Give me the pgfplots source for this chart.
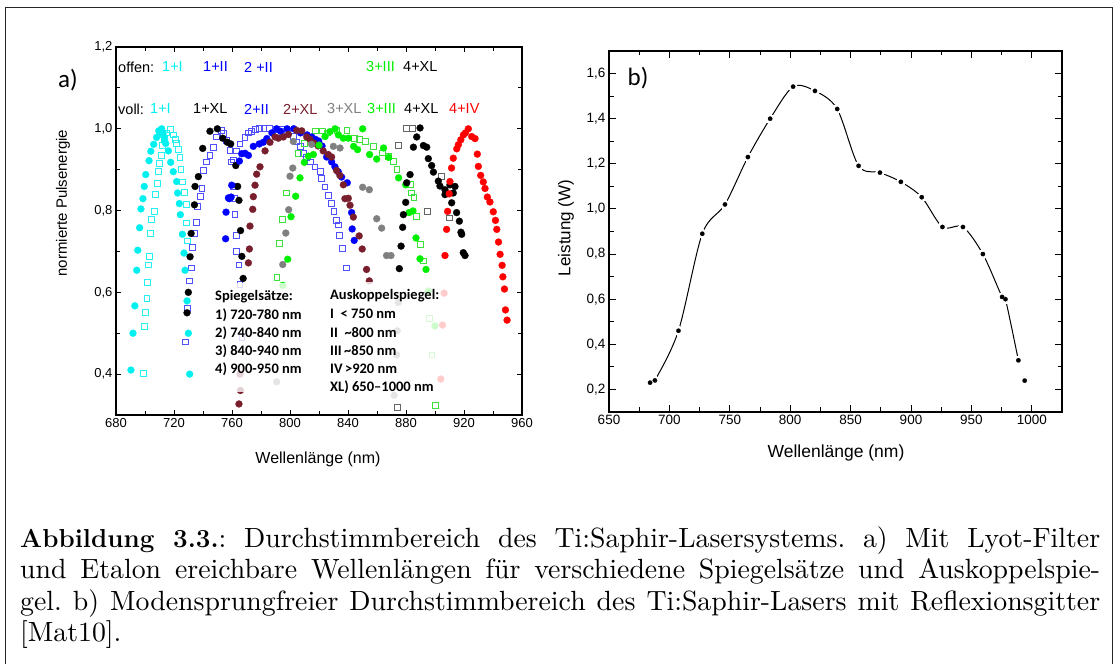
\documentclass[border=0pt]{standalone}
\usepackage{pgfplots}
\pgfplotsset{compat=1.18}
\usepackage{fontspec}
\newfontfamily\arial{Liberation Sans}
\newfontfamily\calibri{Carlito}
\font\capr="[lmroman10-regular.otf]" at 27.8pt
\font\capb="[lmroman12-bold.otf]" at 26pt
\definecolor{mycyan}{RGB}{0,240,240}
\definecolor{sqcyan}{RGB}{40,240,240}
\definecolor{sqblue}{RGB}{80,80,255}
\definecolor{myblue}{RGB}{0,0,255}
\definecolor{maroon}{RGB}{120,30,45}
\definecolor{mygray}{RGB}{128,128,128}
\definecolor{mygreen}{RGB}{0,240,0}
\definecolor{sqgreen}{RGB}{60,225,60}
\definecolor{sqgray}{RGB}{100,100,100}
\definecolor{myred}{RGB}{255,0,0}
\pgfplotsset{
  dots/.style={color=#1, only marks, mark=*, mark size=3.5pt, mark options={draw=#1, fill=#1, line width=0.2pt}},
  sqs/.style={color=#1, only marks, mark=square, mark size=2.9pt, mark options={draw=#1, line width=0.8pt, fill=none}},
}
\begin{document}
\begin{tikzpicture}[x=1pt,y=1pt]
\useasboundingbox (0,0) rectangle (1114,664);
\draw[line width=1pt, black!85] (5,-2) -- (5,656) -- (1112,656) -- (1112,-2);

% ---------------- panel a ----------------
\begin{axis}[
  at={(116pt,249pt)}, anchor=south west, scale only axis,
  width=406pt, height=368pt,
  xmin=680, xmax=960, ymin=0.3, ymax=1.2,
  xtick={680,720,760,800,840,880,920,960},
  minor xtick={700,740,780,820,860,900,940},
  ytick={0.4,0.6,0.8,1.0,1.2},
  minor ytick={0.3,0.5,0.7,0.9,1.1},
  tick align=inside, major tick length=5pt, minor tick length=4pt,
  every tick/.style={black, line width=0.9pt},
  axis line style={line width=1.2pt},
  /pgf/number format/assume math mode=true,
  tick label style={font=\arial\fontsize{13}{15}\selectfont},
  xticklabel style={/pgf/number format/.cd, fixed, precision=0, 1000 sep={}},
  yticklabel style={/pgf/number format/.cd, fixed, fixed zerofill, precision=1, use comma},
]
% offen 1+I
\addplot[sqs=sqcyan] coordinates {(698.8,0.402)(699.5,0.516)(700.4,0.55)(701.3,0.585)(701.8,0.625)(702.5,0.667)(703,0.687)(703.9,0.744)(704.6,0.778)(706.4,0.797)(707.4,0.84)(708.3,0.867)(709.2,0.895)(709.9,0.915)(711.5,0.935)(712,0.96)(713.5,0.975)(715,0.99)(717.7,0.999)(719.5,0.985)(721.2,0.975)(721.8,0.965)(723,0.95)(724,0.93)(724.8,0.90)(726,0.87)(727,0.845)(728.3,0.815)(728.7,0.77)(729.4,0.726)};
% offen 1+II and 2+II
\addplot[sqs=sqblue] coordinates {(727.8,0.479)(729.4,0.56)(730.4,0.628)(732.2,0.66)(732.9,0.71)(734.3,0.745)(735.7,0.772)(736.2,0.81)(738,0.835)(739.2,0.855)(740.2,0.898)(742.5,0.919)(744.8,0.935)(747.1,0.955)(749.4,0.98)(752.8,0.996)(754,0.988)(756.3,0.972)(758.6,0.947)(759.8,0.919)(760.8,0.86)(762,0.83)(762,0.79)(763,0.74)(763,0.70)(764.8,0.667)(765.5,0.62)(766.8,0.49)
(760.9,0.924)(763.2,0.946)(765.5,0.963)(768.9,0.978)(771.3,0.99)(773.6,0.994)(776,0.998)(779,1.0)(782,1.0)(786,1.0)(790,0.999)(794,0.998)(798,0.99)(802.3,0.981)(804.5,0.968)(806.9,0.956)(809.2,0.94)(811.5,0.93)(813.8,0.919)(817.2,0.907)(820.7,0.895)(821.8,0.879)(824.1,0.858)(826.4,0.838)(828.7,0.817)(830.3,0.797)(831.8,0.776)(833.3,0.765)(834.3,0.739)(835.9,0.707)(838.7,0.66)};
% offen 3+III
\addplot[sqs=sqgreen] coordinates {(791,0.636)(792.6,0.72)(794.9,0.778)(797.7,0.843)(805.8,0.94)(810,0.965)(817.5,0.995)(822.1,0.995)(826,0.99)(832.4,0.997)(839.3,0.997)(844.4,0.977)(848,0.975)(852,0.969)(857.7,0.957)(863.5,0.941)(868.1,0.933)(871.5,0.921)(873.7,0.90)(882.8,0.863)(883.9,0.843)(885.5,0.833)(887.1,0.785)(889.7,0.717)(892,0.677)(900,0.324)(896.3,0.536)(897.9,0.447)};
% offen 4+XL
\addplot[sqs=sqgray] coordinates {(874.1,0.319)(874.5,0.959)(880,1.0)(884.6,1.0)(894.7,0.797)(904.6,0.883)(909.9,0.782)};
% voll 1+I
\addplot[dots=mycyan] coordinates {(690.3,0.41)(691.7,0.50)(693,0.567)(694.3,0.654)(695,0.703)(696.3,0.758)(697.2,0.804)(698.6,0.829)(699.5,0.859)(700.5,0.888)(702.8,0.922)(704,0.945)(706,0.962)(708,0.979)(709.5,0.995)(710.5,0.99)(711.5,1.0)(712.5,0.99)(713,0.98)(713.4,0.97)(714.3,0.964)(716.1,0.946)(717.7,0.918)(719.5,0.895)(721.8,0.871)(722.5,0.843)(723.7,0.817)(724.4,0.79)(725.8,0.742)(726.9,0.696)(727.6,0.654)(729,0.579)(729.9,0.50)(730.8,0.40)};
% voll 1+XL
\addplot[dots=black] coordinates {(729,0.55)(729.9,0.60)(731.1,0.687)(731.8,0.744)(734.1,0.814)(734.5,0.859)(736.8,0.883)(739.8,0.952)(744.8,0.994)(749.9,1.0)(753.6,0.977)(756.8,0.967)(759.1,0.963)(762.6,0.91)(763.9,0.859)(764.8,0.825)(765.9,0.751)(766.8,0.688)(767.7,0.634)};
% voll 2+II
\addplot[dots=myblue] coordinates {(755.6,0.731)(755.9,0.796)(757.5,0.831)(758.2,0.829)(759.4,0.833)(759.8,0.862)(765.1,0.921)(766.7,0.939)(769,0.94)(771.3,0.935)(774.7,0.957)(778.8,0.963)(781.6,0.967)(784,0.976)(787.5,0.99)(790.8,1.0)(793.5,0.994)(798,1.0)(802.6,1.0)(807.2,0.99)(811.8,0.985)(815,0.98)(817.5,0.974)(819.8,0.97)(822.1,0.958)(825.3,0.931)(828.7,0.919)(831,0.907)(833.3,0.895)(835.6,0.882)(839.5,0.868)(842.5,0.795)(842.9,0.755)(844.3,0.727)};
% voll 2+XL
\addplot[dots=maroon] coordinates {(764.8,0.327)(765.5,0.40)(765.8,0.36)(771.3,0.672)(772,0.706)(772.4,0.762)(774.3,0.803)(774.7,0.834)(775.9,0.862)(777,0.889)(779.3,0.907)(782.8,0.946)(786.2,0.967)(789.7,0.98)(792,0.977)(795.4,0.98)(798.9,0.986)(804.6,0.996)(808.1,0.995)(811.5,0.98)(813.8,0.974)(816.5,0.965)(819.4,0.958)(822.9,0.946)(826.4,0.937)(828.7,0.931)(832.1,0.898)(834.4,0.886)(836.8,0.863)(837.9,0.829)(840.2,0.83)(841.4,0.813)(843.7,0.784)(847.7,0.738)(849.8,0.706)(852.8,0.656)(854.7,0.628)};
% voll 3+XL
\addplot[dots=mygray] coordinates {(795,0.668)(797.1,0.745)(799.1,0.802)(800,0.884)(801.9,0.904)(802.3,0.969)(814.9,0.962)(829.9,0.957)(834.5,0.953)(850.1,0.857)(854.7,0.851)(859.8,0.78)(863.2,0.757)(866.6,0.69)(869.6,0.69)(790.8,0.381)(874.7,0.575)(874,0.506)(873.6,0.447)(871.8,0.348)};
% voll 3+III
\addplot[dots=mygreen] coordinates {(798.4,0.681)(800.7,0.785)(803.9,0.835)(806.9,0.88)(809.9,0.918)(812.7,0.933)(816.1,0.937)(820,0.96)(824.2,0.981)(827.6,0.993)(831.1,1.0)(833.4,0.985)(836.8,0.977)(840.3,0.977)(843.9,0.957)(846.6,0.949)(850.1,1.0)(854.9,0.937)(859.8,0.926)(864.5,0.953)(868,0.93)(874.9,0.88)(879.8,0.863)(882.1,0.795)(884.8,0.799)(886.9,0.733)(889.7,0.682)(893.8,0.656)(795,0.617)(895.4,0.603)(900,0.518)};
% voll 4+XL
\addplot[dots=black] coordinates {(875.4,0.658)(876.6,0.713)(877.7,0.759)(878.2,0.79)(879.8,0.82)(880.5,0.868)(882.8,0.888)(885.1,0.955)(887.4,0.98)(889.7,1.002)(892,0.959)(894.3,0.955)(895.4,0.927)(897.7,0.91)(898.9,0.894)(902.3,0.872)(903.4,0.86)(906.9,0.851)(906.9,0.839)(910.3,0.863)(911.5,0.819)(912.6,0.843)(913.8,0.859)(914.9,0.795)(916.8,0.774)(917.9,0.747)(918.4,0.742)(919.5,0.697)(920.7,0.69)};
% voll 4+IV
\addplot[dots=myred] coordinates {(906.9,0.69)(908,0.754)(908.7,0.798)(909.8,0.841)(910.3,0.871)(911.4,0.904)(912.6,0.928)(915,0.951)(916.1,0.961)(917.8,0.973)(919.6,0.985)(921,0.99)(923,1.0)(925.3,0.981)(927.6,0.976)(929.2,0.938)(929.9,0.908)(931.5,0.886)(933.3,0.87)(934.5,0.854)(936.1,0.833)(937.9,0.821)(940.2,0.797)(941.7,0.776)(942.6,0.754)(943.8,0.723)(944.9,0.693)(946.3,0.666)(946.8,0.638)(947.9,0.608)(948.6,0.557)(949.7,0.532)(906.3,0.598)(905.2,0.52)(904,0.388)};
\end{axis}

% text boxes (semi-transparent)
\fill[white, opacity=0.8] (208,664-392) rectangle (320,664-283);
\fill[white, opacity=0.8] (325,664-400) rectangle (452,664-282);
\begin{scope}[every node/.style={anchor=west, inner sep=0pt, font=\calibri\bfseries\fontsize{14.5}{17}\selectfont}]
\node at (215,664-297) {Spiegelsätze:};
\node at (215,664-315) {1) 720-780 nm};
\node at (215,664-333) {2) 740-840 nm};
\node at (215,664-351) {3) 840-940 nm};
\node at (215,664-369) {4) 900-950 nm};
\node at (330,664-296) {Auskoppelspiegel:};
\node at (330,664-314) {I\ \ < 750 nm};
\node at (330,664-333) {II\ \ \textasciitilde800 nm};
\node at (330,664-351) {III\,\textasciitilde850 nm};
\node at (330,664-369) {IV\,>920 nm};
\node at (330,664-387) {XL) 650–1000 nm};
\end{scope}

% legend rows
\begin{scope}[every node/.style={anchor=west, inner sep=0pt, font=\arial\fontsize{14.5}{17}\selectfont}]
\node at (118,597) {offen:};
\node[text=mycyan] at (162,597) {1+I};
\node[text=myblue] at (203,597) {1+II};
\node[text=myblue] at (244,597) {2 +II};
\node[text=mygreen] at (366,597) {3+III};
\node at (403,597) {4+XL};
\node at (118,555) {voll:};
\node[text=mycyan] at (150,555) {1+I};
\node at (193,555) {1+XL};
\node[text=myblue] at (244,555) {2+II};
\node[text=maroon] at (283,555) {2+XL};
\node[text=mygray] at (327,555) {3+XL};
\node[text=mygreen] at (367,555) {3+III};
\node at (404,555) {4+XL};
\node[text=myred] at (449,555) {4+IV};
\end{scope}

\node[font=\calibri\fontsize{25}{28}\selectfont] at (68,584) {a)};
\node[rotate=90, font=\arial\fontsize{15}{18}\selectfont] at (63,461) {normierte Pulsenergie};
\node[font=\arial\fontsize{16}{19}\selectfont] at (318,205) {Wellenlänge (nm)};

% ---------------- panel b ----------------
\begin{axis}[
  at={(609pt,252pt)}, anchor=south west, scale only axis,
  width=453pt, height=361pt,
  xmin=650, xmax=1025, ymin=0.1, ymax=1.7,
  xtick={650,700,750,800,850,900,950,1000},
  minor xtick={675,725,775,825,875,925,975},
  ytick={0.2,0.4,0.6,0.8,1.0,1.2,1.4,1.6},
  minor ytick={0.3,0.5,0.7,0.9,1.1,1.3,1.5},
  tick align=inside, major tick length=7pt, minor tick length=4.5pt,
  every tick/.style={black, line width=0.9pt},
  axis line style={line width=1.2pt},
  /pgf/number format/assume math mode=true,
  tick label style={font=\arial\fontsize{13.5}{16}\selectfont},
  xticklabel style={/pgf/number format/.cd, fixed, precision=0, 1000 sep={}},
  yticklabel style={/pgf/number format/.cd, fixed, fixed zerofill, precision=1, use comma},
]
\addplot[black, line width=1pt, smooth, tension=0.5] coordinates {(684,0.23)(688,0.24)(707.5,0.46)(727.2,0.89)(746,1.02)(765,1.23)(783.4,1.40)(802.4,1.542)(820.5,1.523)(838.9,1.443)(856.6,1.191)(874.3,1.161)(891.6,1.12)(908.9,1.052)(926,0.92)(943,0.92)(959.5,0.80)(975.4,0.61)(978.2,0.60)(988.9,0.329)};
\addplot[white, only marks, mark=*, mark size=4.5pt, mark options={draw=white, fill=white, line width=0pt}] coordinates {(684,0.23)(688,0.24)(707.5,0.46)(727.2,0.89)(746,1.02)(765,1.23)(783.4,1.40)(802.4,1.542)(820.5,1.523)(838.9,1.443)(856.6,1.191)(874.3,1.161)(891.6,1.12)(908.9,1.052)(926,0.92)(943,0.92)(959.5,0.80)(975.4,0.61)(978.2,0.60)(988.9,0.329)(994.1,0.239)};
\addplot[black, only marks, mark=*, mark size=2.2pt, mark options={draw=black, fill=black, line width=0.2pt}] coordinates {(684,0.23)(688,0.24)(707.5,0.46)(727.2,0.89)(746,1.02)(765,1.23)(783.4,1.40)(802.4,1.542)(820.5,1.523)(838.9,1.443)(856.6,1.191)(874.3,1.161)(891.6,1.12)(908.9,1.052)(926,0.92)(943,0.92)(959.5,0.80)(975.4,0.61)(978.2,0.60)(988.9,0.329)(994.1,0.239)};
\end{axis}
\node[font=\calibri\fontsize{25}{28}\selectfont] at (638,586) {b)};
\node[rotate=90, font=\arial\fontsize{17}{20}\selectfont] at (566,436) {Leistung (W)};
\node[font=\arial\fontsize{17.5}{20}\selectfont] at (836,211) {Wellenlänge (nm)};

% ---------------- caption ----------------
\node[anchor=base west, inner sep=0pt] at (20,664-547.5) {\parbox[t]{1080pt}{\capr\frenchspacing\baselineskip=31.3pt\tolerance=10000\hyphenpenalty=10000\exhyphenpenalty=10000\parfillskip=0pt plus 1fil
{\capb Abbildung 3.3.}: Durchstimmbereich des Ti:Saphir-Lasersystems. a) Mit Lyot-Filter\linebreak\relax
und Etalon ereichbare Wellenlängen für verschiedene Spiegelsätze und Auskoppelspie-\linebreak\relax
gel. b) Modensprungfreier Durchstimmbereich des Ti:Saphir-Lasers mit Reflexionsgitter\linebreak\relax
{[}Mat10{]}.}};
\end{tikzpicture}
\end{document}
